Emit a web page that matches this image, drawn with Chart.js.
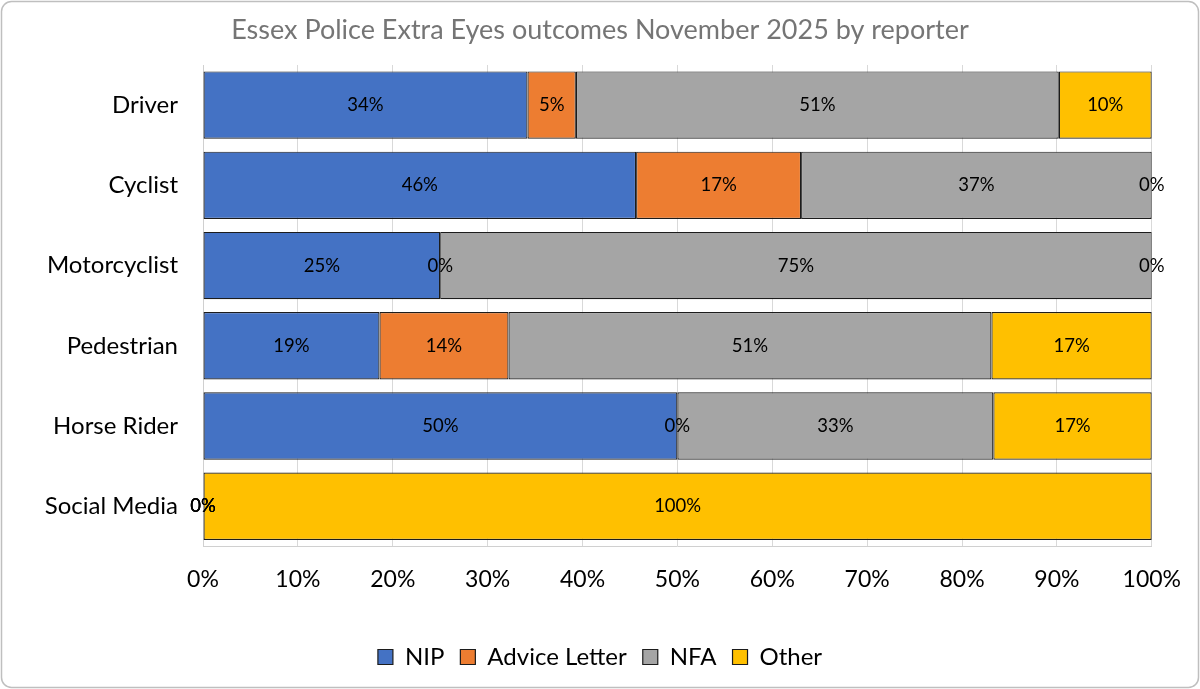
<!DOCTYPE html>
<html>
<head>
<meta charset="utf-8">
<script src="https://cdn.jsdelivr.net/npm/chart.js@4/dist/chart.umd.min.js"></script>
<style>
  html, body { margin: 0; padding: 0; background: #fff; }
  #wrap { width: 1200px; height: 689px; position: relative; }
</style>
</head>
<body>
<div id="wrap"><canvas id="c" width="1200" height="689"></canvas></div>
<script>
const categories = ['Driver', 'Cyclist', 'Motorcyclist', 'Pedestrian', 'Horse Rider', 'Social Media'];
const nip          = [34.2, 45.65, 25, 18.6, 50, 0];
const adviceLetter = [5.1, 17.39, 0, 13.6, 0, 0];
const nfa          = [50.9, 36.96, 75, 50.9, 33.3, 0];
const other        = [9.8, 0, 0, 16.9, 16.7, 100];
const xTicks = [0, 10, 20, 30, 40, 50, 60, 70, 80, 90, 100];

const FONT = 'Lato, "Open Sans", sans-serif';

const frame = {
  id: 'frame',
  beforeDraw(chart) {
    const ctx = chart.ctx;
    ctx.save();
    ctx.fillStyle = '#fff';
    ctx.fillRect(0, 0, chart.width, chart.height);
    ctx.strokeStyle = '#bfbfbf';
    ctx.lineWidth = 1.5;
    ctx.beginPath();
    ctx.roundRect(1.5, 1.5, chart.width - 3, chart.height - 3, 10);
    ctx.stroke();
    ctx.restore();
  }
};

const dataLabels = {
  id: 'dataLabels',
  afterDatasetsDraw(chart) {
    const ctx = chart.ctx;
    ctx.save();
    ctx.font = '18.5px ' + FONT;
    ctx.fillStyle = '#000';
    ctx.textAlign = 'center';
    ctx.textBaseline = 'middle';
    chart.data.datasets.forEach((ds, i) => {
      const meta = chart.getDatasetMeta(i);
      meta.data.forEach((el, j) => {
        const v = ds.data[j];
        const x = (el.x + el.base) / 2;
        ctx.fillText(Math.round(v) + '%', x, el.y);
      });
    });
    ctx.restore();
  }
};

const mk = (label, data, color) => ({
  label, data,
  backgroundColor: color,
  borderColor: '#1c1c1c',
  borderWidth: 1.2,
  borderSkipped: false,
  barPercentage: 0.84,
  categoryPercentage: 1.0
});

new Chart(document.getElementById('c'), {
  type: 'bar',
  data: {
    labels: categories,
    datasets: [
      mk('NIP', nip, '#4472C4'),
      mk('Advice Letter', adviceLetter, '#ED7D31'),
      mk('NFA', nfa, '#A5A5A5'),
      mk('Other', other, '#FFC000')
    ]
  },
  options: {
    indexAxis: 'y',
    responsive: false,
    animation: false,
    devicePixelRatio: 1,
    layout: { padding: { left: 0, right: 0, top: 5, bottom: 10 } },
    plugins: {
      title: {
        display: true,
        text: 'Essex Police Extra Eyes outcomes November 2025 by reporter',
        color: '#757575',
        font: { family: FONT, size: 27, weight: 'normal' },
        padding: { top: 9, bottom: 18.6 }
      },
      legend: {
        position: 'bottom',
        labels: {
          color: '#000',
          font: { family: FONT, size: 24 },
          boxWidth: 15,
          boxHeight: 15,
          padding: 16
        }
      },
      tooltip: { enabled: false }
    },
    scales: {
      x: {
        stacked: true,
        min: 0, max: 100,
        afterBuildTicks(scale) { scale.ticks = xTicks.map(v => ({ value: v })); },
        afterFit(scale) { scale.height = scale.height + 17; },
        ticks: {
          color: '#000',
          font: { family: FONT, size: 23 },
          padding: 19,
          callback: v => v + '%'
        },
        grid: { color: '#d9d9d9', lineWidth: 1, drawTicks: false },
        border: { display: true, color: '#d0d0d0' }
      },
      y: {
        stacked: true,
        afterFit(scale) { scale.width = 203; },
        ticks: {
          color: '#000',
          font: { family: FONT, size: 24 },
          padding: 25
        },
        grid: { display: false, drawTicks: false },
        border: { display: true, color: '#d0d0d0' }
      },
      yRight: {
        type: 'linear',
        position: 'right',
        display: true,
        afterFit(scale) { scale.width = 47; },
        ticks: { display: false },
        grid: { display: false, drawTicks: false },
        border: { display: false }
      }
    }
  },
  plugins: [frame, dataLabels]
});
</script>
</body>
</html>
